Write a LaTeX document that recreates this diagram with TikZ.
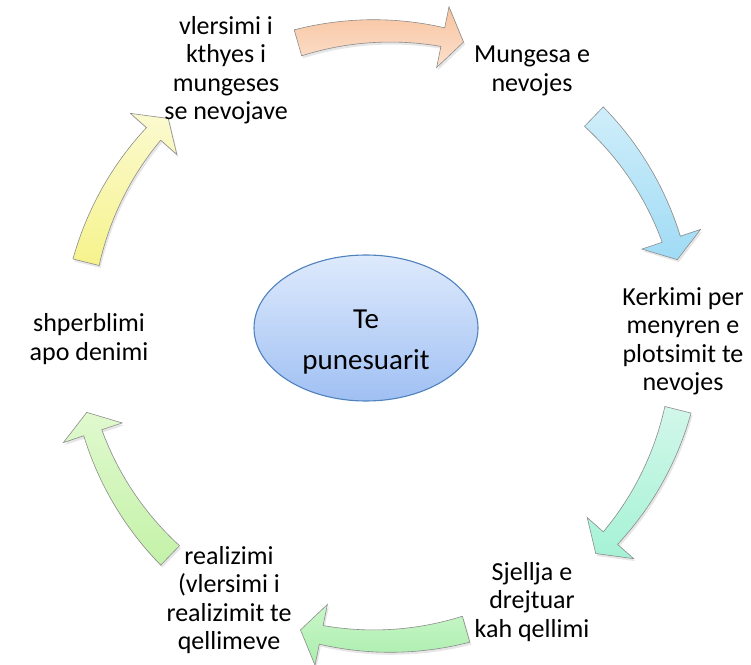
\documentclass[tikz,border=0pt]{standalone}
\usepackage{fontspec}
\setmainfont{Carlito}
\usetikzlibrary{shadows,shapes.geometric}
\definecolor{orT}{RGB}{248,196,160}
\definecolor{orB}{RGB}{252,224,204}
\definecolor{blT}{RGB}{208,238,250}
\definecolor{blB}{RGB}{160,219,245}
\definecolor{tlT}{RGB}{210,247,234}
\definecolor{tlB}{RGB}{165,242,214}
\definecolor{gnT}{RGB}{202,246,202}
\definecolor{gnB}{RGB}{170,238,172}
\definecolor{lgT}{RGB}{224,249,206}
\definecolor{lgB}{RGB}{196,242,168}
\definecolor{ylT}{RGB}{251,250,208}
\definecolor{ylB}{RGB}{246,243,140}
\definecolor{elT}{RGB}{222,234,252}
\definecolor{elB}{RGB}{160,192,243}
\definecolor{elD}{RGB}{79,129,189}
\newcommand{\cycarrow}[3]{%
  \path[arr, top color=#2, bottom color=#3]
    plot[domain={#1+16}:{#1-11.5}, samples=30] (\x:{318.5-4*(#1+16-\x)/27.5})
    -- ({#1-11.5}:336) -- ({#1-15.5}:305) -- ({#1-11.5}:274)
    -- plot[domain={#1-11.5}:{#1+16}, samples=30] (\x:{291.5+4*(#1+16-\x)/27.5})
    -- cycle;}
\begin{document}
\begin{tikzpicture}[x=1pt,y=1pt,
  lbl/.style={align=center, font=\fontsize{26}{28.5}\selectfont, inner sep=0pt},
  arr/.style={draw=black!45, line width=0.6pt,
    drop shadow={shadow xshift=1.5pt, shadow yshift=-2.5pt, opacity=0.2}},
  hub/.style={ellipse, draw=elD, line width=1.1pt, top color=elT, bottom color=elB,
    minimum width=224pt, minimum height=146pt, align=center, text height=88pt,
    font=\fontsize{29}{41}\selectfont, inner sep=0pt}]
\useasboundingbox (0,0) rectangle (751,664);
\begin{scope}[shift={(382,328)}]
  \cycarrow{90}{orT}{orB}
  \cycarrow{30}{blT}{blB}
  \cycarrow{-30}{tlT}{tlB}
  \cycarrow{-90}{gnT}{gnB}
  \cycarrow{-150}{lgT}{lgB}
  \cycarrow{150}{ylT}{ylB}
\end{scope}
\node[hub] (P) at (366,336) {Te\\punesuarit};
\node[lbl] (A) at (226,594) {vlersimi i\\kthyes i\\mungeses\\se nevojave};
\node[lbl] (B) at (532,593) {Mungesa e\\nevojes};
\node[lbl] (C) at (683,323) {Kerkimi per\\menyren e\\plotsimit te\\nevojes};
\node[lbl] (D) at (532,62) {Sjellja e\\drejtuar\\kah qellimi};
\node[lbl] (E) at (229,64) {realizimi\\(vlersimi i\\realizimit te\\qellimeve};
\node[lbl] (F) at (89,325) {shperblimi\\apo denimi};
\end{tikzpicture}
\end{document}
